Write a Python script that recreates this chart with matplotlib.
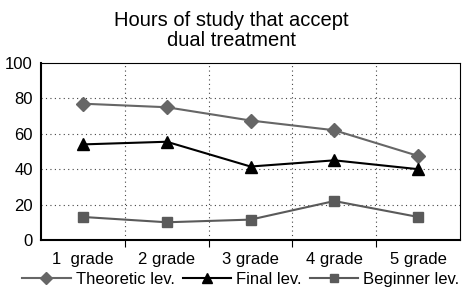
import matplotlib

matplotlib.use("Agg")
import matplotlib.pyplot as plt

plt.rcParams["font.family"] = ["Liberation Sans", "DejaVu Sans"]

grades = ["1  grade", "2 grade", "3 grade", "4 grade", "5 grade"]
theoretic = [77, 75, 67.5, 62, 47.5]
final = [54, 55.5, 41.5, 45, 40]
beginner = [13, 10, 11.5, 22, 13]

fig = plt.figure(figsize=(4.63, 2.93), dpi=100)
ax = fig.add_axes([0.0886, 0.181, 0.905, 0.604])

x = range(len(grades))
ax.plot(x, theoretic, color="#666666", marker="D", markersize=7, linewidth=1.5,
        label="Theoretic lev.")
ax.plot(x, final, color="black", marker="^", markersize=9, linewidth=1.5,
        label="Final lev.")
ax.plot(x, beginner, color="#5a5a5a", marker="s", markersize=7, linewidth=1.5,
        label="Beginner lev.")

ax.set_xlim(-0.5, len(grades) - 0.5)
ax.set_ylim(0, 100)
ax.set_yticks(range(0, 101, 20))
bounds = [i + 0.5 for i in range(len(grades) - 1)]
ax.set_xticks(bounds)
ax.set_xticklabels([])
ax.set_xticks(list(x), minor=True)
ax.set_xticklabels(grades, minor=True)
ax.tick_params(axis="x", which="minor", length=0, pad=9, labelsize=12)
ax.tick_params(axis="x", which="major", length=5, direction="out")
ax.tick_params(axis="y", length=0, labelsize=12, pad=6)
for y in range(20, 100, 20):
    ax.axhline(y, color="#444444", linestyle=(0, (1, 3)), linewidth=0.8, zorder=0)
for xv in bounds:
    ax.axvline(xv, color="#444444", linestyle=(0, (1, 3)), linewidth=0.8, zorder=0)

ax.spines["left"].set_linewidth(1.5)
ax.spines["bottom"].set_linewidth(1.5)
ax.spines["top"].set_linewidth(0.8)
ax.spines["right"].set_linewidth(0.8)

fig.text(0.5, 0.895, "Hours of study that accept\ndual treatment", ha="center",
         va="center", fontsize=14.5, linespacing=1.05)
fig.legend(loc="center", bbox_to_anchor=(0.52, 0.045), ncol=3, frameon=False,
           fontsize=12, handlelength=2.9, columnspacing=0.5, handletextpad=0.3,
           markerscale=0.85, borderpad=0.1)

fig.savefig("out.png", dpi=100)
